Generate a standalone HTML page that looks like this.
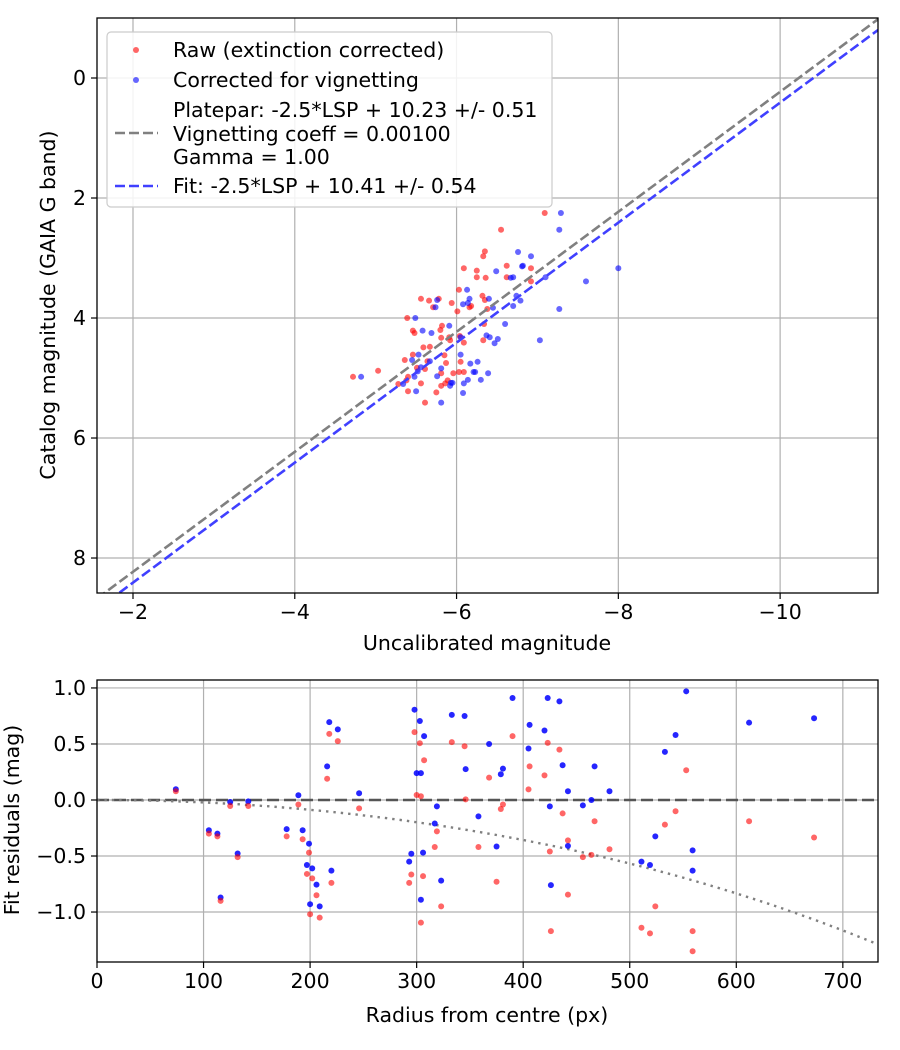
<!DOCTYPE html>
<html><head><meta charset="utf-8"><style>
body{margin:0;background:#fff;}
svg{display:block;font-family:"DejaVu Sans","Liberation Sans",sans-serif;}
</style></head><body>
<svg id="chart" width="900" height="1050" viewBox="0 0 900 1050" xmlns="http://www.w3.org/2000/svg">
<rect width="900" height="1050" fill="#fff"/>
</svg>
<script>
// ---- Top chart data ----
const rawMag = [-7.09,-6.55,-6.35,-6.33,-6.09,-6.25,-6.62,-6.92,-6.25,-6.36,-6.62,-6.92,-6.03,-6.32,-6.35,-5.56,-5.66,-5.78,-5.71,-5.94,-6.01,-6.16,-6.18,-6.38,-5.39,-6.34,-5.46,-5.48,-5.82,-5.80,-5.81,-5.91,-5.92,-6.09,-6.04,-6.33,-5.59,-5.67,-5.46,-5.36,-5.85,-5.64,-5.87,-6.05,-5.03,-5.51,-5.61,-5.81,-5.96,-6.03,-6.09,-5.28,-5.40,-5.38,-5.56,-5.86,-5.89,-5.81,-5.40,-5.75,-5.61,-4.72];
const rawCat = [2.25,2.53,2.89,2.97,3.17,3.21,3.13,3.17,3.32,3.33,3.32,3.39,3.53,3.63,3.70,3.68,3.71,3.68,3.82,3.75,3.89,3.82,3.80,3.85,4.00,4.10,4.21,4.25,4.13,4.20,4.33,4.32,4.37,4.41,4.30,4.37,4.49,4.48,4.61,4.70,4.62,4.72,4.75,4.73,4.88,4.83,4.85,4.92,4.92,4.90,4.90,5.10,4.98,5.04,5.09,5.09,5.04,5.13,5.22,5.24,5.41,4.98];
const corMag = [-7.29,-7.27,-6.76,-6.92,-6.81,-6.82,-6.49,-6.70,-6.67,-7.10,-8.00,-7.60,-7.27,-6.13,-5.76,-5.74,-6.08,-6.14,-6.16,-6.40,-6.45,-6.74,-6.79,-6.70,-5.49,-5.58,-5.69,-5.91,-6.05,-6.60,-6.37,-6.41,-6.51,-6.47,-7.03,-5.53,-5.45,-5.67,-6.05,-6.17,-6.26,-5.56,-5.52,-5.48,-5.76,-5.81,-6.21,-6.23,-6.39,-5.34,-5.93,-5.95,-6.09,-6.14,-6.30,-5.50,-6.08,-5.81,-5.92,-4.82];
const corCat = [2.25,2.53,2.90,2.97,3.14,3.13,3.22,3.32,3.33,3.32,3.17,3.39,3.85,3.53,3.70,3.82,3.77,3.75,3.68,3.68,3.83,3.63,3.71,3.80,4.00,4.21,4.25,4.13,4.32,4.10,4.29,4.32,4.35,4.42,4.37,4.61,4.70,4.72,4.61,4.76,4.73,4.82,4.89,4.98,4.97,4.84,4.90,4.90,4.92,5.10,5.08,5.08,5.09,5.03,5.03,5.22,5.25,5.41,5.13,4.98];
const plateparZP = 10.23;
const fitZP = 10.41;
const topXTicks = [-2,-4,-6,-8,-10];
const topYTicks = [0,2,4,6,8];
// ---- Bottom chart data ----
const radius = [74,105,113,116,125,132,142,178,189,193,199,197,202,200,206,209,216,218,226,220,246,293,295,298,303,300,304,304,307,306,319,317,323,333,345,346,368,358,375,379,381,390,406,405,420,423,425,426,434,437,442,442,456,464,467,481,511,519,524,533,543,553,559,559,612,673];
const residCor = [0.096,-0.27,-0.30,-0.87,-0.018,-0.478,-0.012,-0.26,0.042,-0.27,-0.39,-0.58,-0.61,-0.93,-0.755,-0.95,0.30,0.695,0.63,-0.63,0.06,-0.55,-0.48,0.806,0.705,0.24,0.24,-0.89,0.57,-0.47,-0.057,-0.21,-0.72,0.76,0.75,0.275,0.50,-0.146,-0.415,0.23,0.28,0.91,0.67,0.46,0.62,0.91,-0.057,-0.76,0.88,0.31,0.078,-0.41,-0.048,0.0,0.30,0.078,-0.55,-0.58,-0.325,0.43,0.58,0.97,-0.45,-0.63,0.69,0.73];
const residRaw = [0.078,-0.30,-0.325,-0.90,-0.054,-0.51,-0.054,-0.325,-0.04,-0.35,-0.47,-0.66,-0.70,-1.02,-0.85,-1.05,0.19,0.59,0.525,-0.74,-0.075,-0.74,-0.665,0.606,0.507,0.045,0.033,-1.095,0.355,-0.68,-0.28,-0.42,-0.95,0.516,0.48,0.006,0.20,-0.42,-0.73,-0.08,-0.04,0.57,0.30,0.095,0.22,0.51,-0.46,-1.17,0.45,-0.12,-0.36,-0.845,-0.51,-0.49,-0.19,-0.44,-1.14,-1.19,-0.95,-0.22,-0.10,0.265,-1.17,-1.35,-0.19,-0.335];
const vignCoeff = 0.001;
const botXTicks = [0,100,200,300,400,500,600,700];
const botYTicks = [1.0,0.5,0.0,-0.5,-1.0];
const botYTickLabels = ["1.0","0.5","0.0","\u22120.5","\u22121.0"];

const FS = 20.5;
const NS="http://www.w3.org/2000/svg";
const svg=document.getElementById('chart');
function mk(tag,attrs,parent){const e=document.createElementNS(NS,tag);for(const k in attrs)e.setAttribute(k,attrs[k]);(parent||svg).appendChild(e);return e;}
function fmt(v){return v<0?'\u2212'+Math.abs(v):String(v);}

// ---- Top axes ----
const T={l:97,r:878,t:18,b:593,x0:-1.555,x1:-11.21,y0:-1.0,y1:8.583};
const tx=v=>T.l+(v-T.x0)/(T.x1-T.x0)*(T.r-T.l);
const ty=v=>T.t+(v-T.y0)/(T.y1-T.y0)*(T.b-T.t);
const topG=mk('g',{});


mk('defs',{}).innerHTML='<clipPath id="ct"><rect x="97" y="18" width="781" height="575"/></clipPath><clipPath id="cb"><rect x="97" y="680" width="781" height="282"/></clipPath>';
topXTicks.forEach(v=>{const x=tx(v);
 const g=mk('line',{x1:x,x2:x,y1:T.t,y2:T.b,stroke:'#b0b0b0','stroke-width':1.2},topG);
 
 mk('line',{x1:x,x2:x,y1:T.b,y2:T.b+6,stroke:'#000','stroke-width':1.2},topG);
 const t=mk('text',{x:x,y:T.b+26,'text-anchor':'middle','font-size':FS},topG);t.textContent=fmt(v);
 });
topYTicks.forEach(v=>{const y=ty(v);
 const g=mk('line',{x1:T.l,x2:T.r,y1:y,y2:y,stroke:'#b0b0b0','stroke-width':1.2},topG);
 
 mk('line',{x1:T.l-6,x2:T.l,y1:y,y2:y,stroke:'#000','stroke-width':1.2},topG);
 const t=mk('text',{x:T.l-11,y:y+7,'text-anchor':'end','font-size':FS},topG);t.textContent=fmt(v);
 });
const tpts=mk('g',{'clip-path':'url(#ct)'},topG);
rawMag.forEach((m,i)=>{const c=mk('circle',{cx:tx(m),cy:ty(rawCat[i]),r:3,fill:'#ff0000','fill-opacity':0.6},tpts);
 });
corMag.forEach((m,i)=>{const c=mk('circle',{cx:tx(m),cy:ty(corCat[i]),r:3,fill:'#0000ff','fill-opacity':0.6},tpts);
 });
const l1=mk('line',{x1:tx(T.x0),y1:ty(T.x0+plateparZP),x2:tx(T.x1),y2:ty(T.x1+plateparZP),stroke:'#808080','stroke-width':2.6,'stroke-dasharray':'10,4'},tpts);

const l2=mk('line',{x1:tx(T.x0),y1:ty(T.x0+fitZP),x2:tx(T.x1),y2:ty(T.x1+fitZP),stroke:'#4040ff','stroke-width':2.6,'stroke-dasharray':'10,4'},tpts);

mk('rect',{x:T.l,y:T.t,width:T.r-T.l,height:T.b-T.t,fill:'none',stroke:'#000','stroke-width':1.3},topG);
let t=mk('text',{x:487,y:650,'text-anchor':'middle','font-size':FS},topG);t.textContent='Uncalibrated magnitude';

t=mk('text',{x:0,y:0,'text-anchor':'middle','font-size':FS,transform:'translate(55,305) rotate(-90)'},topG);t.textContent='Catalog magnitude (GAIA G band)';

// legend
const lg=mk('g',{},topG);

mk('rect',{x:107,y:32,width:445,height:175,rx:4,fill:'#fff','fill-opacity':0.85,stroke:'#ccc','stroke-width':1.2},lg);
function ltext(x,y,s,n){const e=mk('text',{x:x,y:y,'font-size':FS},lg);e.textContent=s;}
mk('circle',{cx:136,cy:50,r:3,fill:'#f00','fill-opacity':0.6},lg);
ltext(173,57,'Raw (extinction corrected)','legend-raw');
mk('circle',{cx:136,cy:80,r:3,fill:'#00f','fill-opacity':0.6},lg);
ltext(173,87,'Corrected for vignetting','legend-corrected');
mk('line',{x1:115,x2:158,y1:133,y2:133,stroke:'#808080','stroke-width':2.6,'stroke-dasharray':'10,4'},lg);
ltext(173,117,'Platepar: -2.5*LSP + 10.23 +/- 0.51','legend-platepar');
ltext(173,141,'Vignetting coeff = 0.00100','legend-vignetting');
ltext(173,164,'Gamma = 1.00','legend-gamma');
mk('line',{x1:115,x2:158,y1:186,y2:186,stroke:'#4040ff','stroke-width':2.6,'stroke-dasharray':'10,4'},lg);
ltext(173,193,'Fit: -2.5*LSP + 10.41 +/- 0.54','legend-fit');

// ---- Bottom axes ----
const B={l:97,r:878,t:680,b:962,x0:0,x1:733,y0:1.071,y1:-1.446};
const bx=v=>B.l+(v-B.x0)/(B.x1-B.x0)*(B.r-B.l);
const by=v=>B.t+(v-B.y0)/(B.y1-B.y0)*(B.b-B.t);
const botG=mk('g',{});


botXTicks.forEach(v=>{const x=bx(v);
 const g=mk('line',{x1:x,x2:x,y1:B.t,y2:B.b,stroke:'#b0b0b0','stroke-width':1.2},botG);
 
 mk('line',{x1:x,x2:x,y1:B.b,y2:B.b+6,stroke:'#000','stroke-width':1.2},botG);
 const t=mk('text',{x:x,y:B.b+26,'text-anchor':'middle','font-size':FS},botG);t.textContent=String(v);
 });
botYTicks.forEach((v,i)=>{const y=by(v);
 const g=mk('line',{x1:B.l,x2:B.r,y1:y,y2:y,stroke:'#b0b0b0','stroke-width':1.2},botG);
 
 mk('line',{x1:B.l-6,x2:B.l,y1:y,y2:y,stroke:'#000','stroke-width':1.2},botG);
 const t=mk('text',{x:B.l-11,y:y+7,'text-anchor':'end','font-size':FS},botG);t.textContent=botYTickLabels[i];
 });
const bp=mk('g',{'clip-path':'url(#cb)'},botG);
const zl=mk('line',{x1:B.l,x2:B.r,y1:by(0),y2:by(0),stroke:'#555','stroke-width':2.4,'stroke-dasharray':'12,5'},bp);

let d='';for(let r=0;r<=B.x1;r+=5){const v=10*Math.log10(Math.cos(r*vignCoeff));d+=(r?'L':'M')+bx(r).toFixed(1)+','+by(v).toFixed(1);}
const vc=mk('path',{d:d,fill:'none',stroke:'#808080','stroke-width':2.4,'stroke-dasharray':'2.4,5'},bp);

radius.forEach((r,i)=>{const c=mk('circle',{cx:bx(r),cy:by(residCor[i]),r:3,fill:'#0000ff','fill-opacity':0.85},bp);
 });
radius.forEach((r,i)=>{const c=mk('circle',{cx:bx(r),cy:by(residRaw[i]),r:3,fill:'#ff0000','fill-opacity':0.6},bp);
 });
mk('rect',{x:B.l,y:B.t,width:B.r-B.l,height:B.b-B.t,fill:'none',stroke:'#000','stroke-width':1.3},botG);
t=mk('text',{x:487,y:1022,'text-anchor':'middle','font-size':FS},botG);t.textContent='Radius from centre (px)';

t=mk('text',{x:0,y:0,'text-anchor':'middle','font-size':FS,transform:'translate(19,820) rotate(-90)'},botG);t.textContent='Fit residuals (mag)';

</script>
</body></html>
